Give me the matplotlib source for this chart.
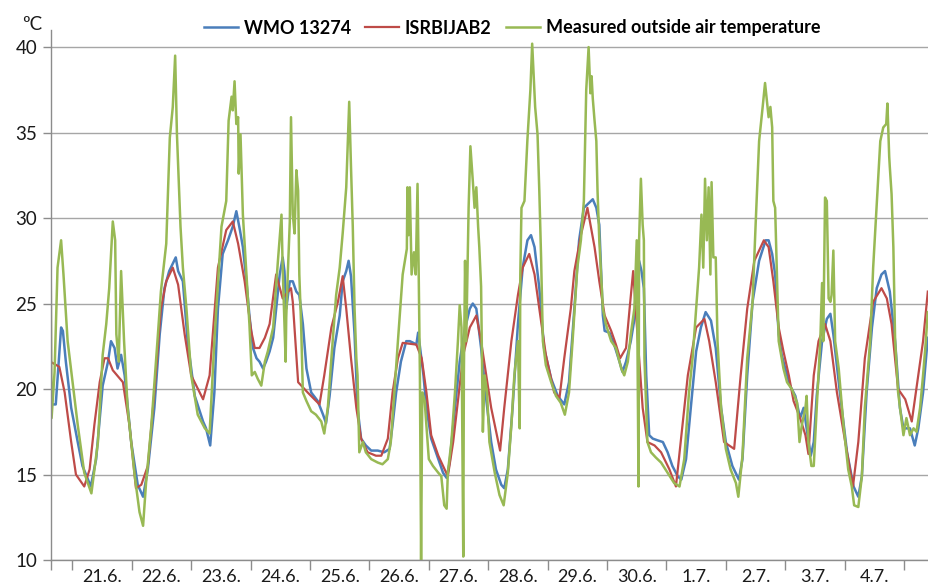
import matplotlib
matplotlib.use("Agg")
import matplotlib.pyplot as plt

plt.rcParams['font.family'] = ['Lato', 'DejaVu Sans']

# x values are days counted from 21.6. 00:00
day_labels = ["21.6.", "22.6.", "23.6.", "24.6.", "25.6.", "26.6.", "27.6.",
              "28.6.", "29.6.", "30.6.", "1.7.", "2.7.", "3.7.", "4.7."]

# WMO 13274
wmo_t = [-0.33, -0.28, -0.19, -0.16, -0.11, -0.02, 0.09, 0.17, 0.31, 0.40,
         0.51, 0.60, 0.65, 0.71, 0.76, 0.82, 0.88, 0.99, 1.10, 1.19,
         1.27, 1.38, 1.47, 1.55, 1.63, 1.74, 1.78, 1.86, 1.94, 2.06,
         2.20, 2.25, 2.32, 2.39, 2.45, 2.53, 2.62, 2.70, 2.76, 2.82,
         2.87, 2.93, 2.98, 3.04, 3.10, 3.15, 3.21, 3.26, 3.32, 3.38,
         3.43, 3.49, 3.54, 3.57, 3.60, 3.66, 3.71, 3.77, 3.82, 3.88,
         3.94, 4.02, 4.13, 4.22, 4.27, 4.33, 4.41, 4.50, 4.55, 4.61,
         4.65, 4.69, 4.75, 4.80, 4.86, 4.94, 5.03, 5.14, 5.25, 5.34,
         5.39, 5.45, 5.53, 5.62, 5.68, 5.74, 5.79, 5.82, 5.85, 5.91,
         5.96, 6.04, 6.16, 6.24, 6.30, 6.35, 6.44, 6.52, 6.60, 6.69,
         6.74, 6.80, 6.88, 6.97, 7.05, 7.13, 7.22, 7.27, 7.33, 7.41,
         7.50, 7.58, 7.66, 7.72, 7.78, 7.86, 7.94, 8.06, 8.17, 8.28,
         8.36, 8.45, 8.53, 8.61, 8.70, 8.76, 8.82, 8.87, 8.93, 8.96,
         9.04, 9.12, 9.21, 9.26, 9.32, 9.40, 9.49, 9.54, 9.58, 9.62,
         9.66, 9.71, 9.77, 9.85, 9.94, 10.02, 10.10, 10.19, 10.25, 10.33,
         10.41, 10.50, 10.58, 10.66, 10.75, 10.83, 10.92, 11.00, 11.11, 11.22,
         11.28, 11.36, 11.45, 11.56, 11.67, 11.72, 11.78, 11.83, 11.89, 11.94,
         12.00, 12.08, 12.17, 12.25, 12.31, 12.36, 12.43, 12.48, 12.53, 12.62,
         12.70, 12.76, 12.81, 12.92, 13.04, 13.15, 13.23, 13.29, 13.37, 13.46,
         13.54, 13.62, 13.68, 13.76, 13.85, 13.93, 13.99, 14.10, 14.18, 14.24,
         14.32, 14.40]
wmo_v = [19.1, 19.1, 23.6, 23.4, 21.6, 18.9, 16.9, 15.5, 14.3, 15.9,
         20.2, 21.6, 22.8, 22.4, 21.2, 22.0, 20.8, 16.9, 14.4, 13.7,
         15.3, 18.9, 23.2, 25.9, 26.9, 27.7, 26.9, 26.3, 22.8, 19.6,
         18.1, 17.7, 16.7, 19.8, 24.7, 27.9, 28.7, 29.5, 30.4, 29.3,
         28.3, 26.3, 24.3, 22.4, 21.8, 21.6, 21.2, 21.6, 22.2, 23.0,
         24.7, 26.7, 27.7, 26.9, 24.7, 26.3, 26.3, 25.7, 25.5, 23.8,
         21.2, 19.8, 19.3, 18.5, 18.0, 19.6, 22.4, 24.3, 26.3, 26.9,
         27.5, 26.6, 23.2, 18.9, 17.1, 16.7, 16.4, 16.4, 16.3, 16.5,
         17.9, 19.8, 21.6, 22.8, 22.8, 22.7, 22.6, 23.3, 22.5, 20.8,
         18.9, 17.1, 15.9, 15.1, 14.8, 15.7, 18.9, 21.6, 23.4, 24.7,
         25.0, 24.7, 22.4, 19.3, 16.9, 15.3, 14.4, 14.2, 15.3, 18.9,
         23.8, 27.1, 28.7, 29.0, 28.3, 25.9, 22.4, 20.6, 19.6, 19.1,
         20.4, 24.7, 28.7, 30.6, 30.9, 31.1, 30.6, 29.6, 24.3, 23.4,
         23.3, 22.6, 21.6, 21.0, 21.6, 22.8, 24.7, 27.5, 26.9, 25.9,
         20.8, 17.3, 17.1, 17.0, 16.9, 16.3, 15.5, 14.9, 14.7, 15.9,
         18.9, 22.2, 23.6, 24.5, 24.0, 22.4, 18.9, 16.9, 15.5, 14.7,
         15.9, 20.8, 25.1, 27.5, 28.7, 28.7, 27.9, 26.7, 23.2, 22.0,
         21.2, 20.2, 19.6, 18.3, 18.9, 17.7, 16.1, 16.9, 19.6, 22.8,
         24.1, 24.4, 23.2, 19.8, 16.3, 14.3, 13.7, 14.9, 19.8, 23.6,
         25.9, 26.7, 26.9, 25.7, 22.8, 18.9, 17.7, 17.7, 16.7, 17.7,
         19.8, 23.0]

# ISRBIJAB2
isr_t = [-0.37, -0.22, -0.13, -0.02, 0.06, 0.20, 0.29, 0.37, 0.46, 0.54,
         0.60, 0.68, 0.85, 0.96, 1.07, 1.16, 1.27, 1.38, 1.49, 1.58,
         1.69, 1.78, 1.89, 2.00, 2.20, 2.31, 2.45, 2.59, 2.70, 2.79,
         2.90, 3.01, 3.07, 3.15, 3.24, 3.32, 3.43, 3.54, 3.68, 3.71,
         3.80, 3.96, 4.16, 4.24, 4.36, 4.47, 4.55, 4.61, 4.69, 4.78,
         4.86, 4.97, 5.11, 5.20, 5.31, 5.39, 5.48, 5.56, 5.79, 5.88,
         5.96, 6.04, 6.16, 6.32, 6.41, 6.49, 6.58, 6.69, 6.80, 6.88,
         7.05, 7.20, 7.27, 7.39, 7.50, 7.58, 7.69, 7.78, 7.86, 7.97,
         8.11, 8.20, 8.28, 8.39, 8.45, 8.56, 8.67, 8.79, 8.87, 8.96,
         9.07, 9.15, 9.22, 9.32, 9.38, 9.44, 9.52, 9.60, 9.68, 9.80,
         9.91, 10.05, 10.16, 10.24, 10.36, 10.50, 10.64, 10.72, 10.83, 10.97,
         11.14, 11.25, 11.36, 11.48, 11.64, 11.72, 11.80, 11.89, 11.97, 12.06,
         12.14, 12.25, 12.34, 12.39, 12.48, 12.56, 12.67, 12.76, 12.87, 13.01,
         13.14, 13.23, 13.34, 13.48, 13.62, 13.71, 13.79, 13.90, 14.02, 14.13,
         14.24, 14.32, 14.40]
isr_v = [21.6, 21.3, 19.8, 16.9, 15.0, 14.3, 15.3, 17.9, 20.4, 21.8,
         21.8, 21.1, 20.4, 17.9, 14.2, 14.4, 15.5, 19.8, 24.7, 26.3,
         27.1, 26.1, 23.2, 20.8, 19.4, 20.8, 27.1, 29.3, 29.8, 28.5,
         26.3, 23.4, 22.4, 22.4, 23.0, 23.8, 26.7, 25.3, 25.9, 25.1,
         20.4, 19.8, 19.1, 20.8, 23.6, 25.1, 26.6, 24.7, 21.8, 18.9,
         17.1, 16.3, 16.1, 16.1, 17.1, 19.8, 21.8, 22.7, 22.6, 21.8,
         19.8, 17.3, 16.1, 14.9, 16.9, 19.3, 22.0, 23.6, 24.3, 22.8,
         18.9, 16.4, 18.9, 22.8, 25.5, 27.1, 27.9, 26.7, 24.7, 22.0,
         19.8, 19.5, 21.8, 24.7, 26.9, 29.0, 30.6, 28.3, 26.3, 24.3,
         23.4, 22.6, 21.8, 22.4, 24.7, 26.9, 22.8, 18.9, 16.9, 16.7,
         16.3, 15.3, 14.3, 16.9, 20.8, 23.6, 24.1, 22.8, 20.4, 16.9,
         16.5, 20.8, 24.7, 27.5, 28.7, 28.3, 26.3, 23.6, 22.2, 20.8,
         19.3, 18.3, 17.3, 16.2, 20.8, 22.8, 23.8, 22.8, 19.8, 16.9,
         14.3, 16.9, 21.8, 25.1, 25.9, 25.3, 23.8, 20.0, 19.4, 18.1,
         20.8, 22.8, 25.7]

# Measured outside air temperature
meas_t = [-0.37, -0.35, -0.30, -0.25, -0.19, -0.15, -0.08, 0.09, 0.20, 0.32,
          0.43, 0.51, 0.57, 0.62, 0.68, 0.72, 0.74, 0.78, 0.82, 0.87,
          0.93, 1.05, 1.13, 1.19, 1.24, 1.33, 1.44, 1.49, 1.58, 1.64,
          1.69, 1.73, 1.76, 1.82, 1.86, 1.92, 2.00, 2.11, 2.23, 2.31,
          2.39, 2.51, 2.59, 2.63, 2.68, 2.70, 2.73, 2.76, 2.79, 2.80,
          2.83, 2.87, 2.93, 2.98, 3.02, 3.07, 3.12, 3.18, 3.24, 3.29,
          3.38, 3.46, 3.52, 3.54, 3.59, 3.60, 3.63, 3.66, 3.68, 3.71,
          3.74, 3.77, 3.80, 3.82, 3.85, 3.88, 3.94, 4.02, 4.10, 4.19,
          4.24, 4.30, 4.36, 4.44, 4.50, 4.55, 4.61, 4.66, 4.69, 4.72,
          4.75, 4.78, 4.80, 4.83, 4.89, 4.94, 5.03, 5.14, 5.22, 5.31,
          5.36, 5.42, 5.48, 5.56, 5.63, 5.64, 5.66, 5.68, 5.71, 5.75,
          5.78, 5.81, 5.83, 5.85, 5.87, 5.89, 5.93, 6.00, 6.07, 6.16,
          6.21, 6.26, 6.30, 6.32, 6.38, 6.44, 6.49, 6.52, 6.55, 6.58,
          6.59, 6.61, 6.63, 6.65, 6.67, 6.70, 6.74, 6.77, 6.80, 6.83,
          6.85, 6.88, 6.91, 6.94, 6.98, 7.02, 7.11, 7.19, 7.26, 7.33,
          7.39, 7.44, 7.50, 7.53, 7.54, 7.56, 7.61, 7.66, 7.71, 7.74,
          7.79, 7.83, 7.86, 7.89, 7.92, 7.97, 8.06, 8.14, 8.22, 8.29,
          8.36, 8.42, 8.50, 8.56, 8.61, 8.65, 8.69, 8.72, 8.74, 8.76,
          8.79, 8.82, 8.84, 8.87, 8.93, 8.98, 9.07, 9.15, 9.24, 9.29,
          9.35, 9.40, 9.46, 9.50, 9.53, 9.54, 9.57, 9.60, 9.62, 9.63,
          9.66, 9.68, 9.74, 9.82, 9.91, 10.02, 10.13, 10.22, 10.30, 10.38,
          10.44, 10.50, 10.55, 10.59, 10.62, 10.65, 10.68, 10.71, 10.74, 10.76,
          10.79, 10.83, 10.86, 10.92, 11.00, 11.08, 11.17, 11.21, 11.28, 11.36,
          11.45, 11.50, 11.56, 11.62, 11.66, 11.69, 11.72, 11.75, 11.78, 11.80,
          11.83, 11.86, 11.89, 11.97, 12.03, 12.11, 12.20, 12.24, 12.28, 12.34,
          12.36, 12.39, 12.44, 12.48, 12.53, 12.59, 12.62, 12.64, 12.67, 12.70,
          12.73, 12.76, 12.78, 12.81, 12.84, 12.90, 12.98, 13.06, 13.12, 13.16,
          13.23, 13.29, 13.34, 13.43, 13.48, 13.57, 13.60, 13.65, 13.70, 13.72,
          13.75, 13.76, 13.79, 13.82, 13.85, 13.90, 13.99, 14.04, 14.10, 14.16,
          14.21, 14.27, 14.32, 14.36, 14.40]
meas_v = [29.5, 18.3, 21.0, 27.1, 28.7, 26.7, 22.8, 17.9, 15.1, 13.9,
          16.9, 22.0, 23.8, 25.9, 29.8, 28.7, 23.2, 21.6, 26.9, 22.8,
          18.9, 14.9, 12.8, 12.0, 14.5, 17.9, 23.2, 25.7, 28.5, 34.7,
          36.5, 39.5, 34.9, 29.5, 27.1, 24.7, 20.8, 18.5, 17.7, 17.4,
          22.8, 29.5, 31.0, 35.7, 37.1, 36.3, 38.0, 35.5, 35.9, 32.6,
          34.9, 30.2, 26.7, 23.8, 20.8, 21.0, 20.6, 20.2, 21.6, 22.2,
          23.6, 27.5, 30.2, 27.1, 21.6, 24.2, 27.1, 29.8, 35.9, 30.2,
          29.1, 32.8, 31.6, 26.7, 23.8, 19.8, 19.3, 18.7, 18.5, 18.1,
          17.4, 18.9, 21.8, 25.5, 27.1, 29.1, 31.8, 36.8, 33.0, 29.5,
          24.7, 21.8, 20.8, 16.3, 16.9, 16.3, 15.9, 15.7, 15.6, 15.9,
          16.9, 19.8, 22.8, 26.7, 28.2, 31.8, 29.0, 31.8, 26.7, 28.0,
          26.7, 32.0, 26.7, 20.8, 10.0, 19.8, 19.3, 15.9, 15.5, 15.1,
          14.9, 13.2, 13.0, 15.1, 16.9, 19.8, 22.8, 24.9, 23.6, 10.2,
          20.8, 27.5, 22.8, 26.7, 30.6, 34.2, 32.2, 30.6, 31.8, 29.5,
          28.3, 26.0, 17.5, 20.8, 19.8, 16.9, 15.1, 13.8, 13.2, 15.1,
          17.9, 20.8, 22.8, 17.7, 26.7, 30.6, 31.0, 34.6, 37.5, 40.2,
          36.5, 34.9, 31.6, 27.7, 22.8, 21.4, 20.4, 19.6, 19.2, 18.5,
          19.8, 22.8, 27.1, 28.7, 31.0, 37.5, 40.0, 37.3, 38.3, 37.0,
          35.7, 34.5, 31.6, 28.7, 24.7, 23.8, 22.8, 22.4, 21.2, 20.8,
          21.6, 23.2, 24.7, 28.7, 14.3, 28.7, 32.3, 29.6, 28.7, 21.8,
          18.9, 16.9, 16.3, 16.0, 15.7, 15.1, 14.5, 14.3, 15.9, 19.8,
          21.8, 24.7, 27.1, 30.2, 27.1, 32.3, 28.7, 31.8, 26.7, 32.1,
          27.7, 27.7, 22.8, 18.9, 16.5, 15.3, 14.5, 13.7, 16.1, 21.8,
          25.1, 29.5, 34.5, 36.5, 37.9, 36.9, 35.9, 36.5, 35.3, 31.0,
          30.6, 26.7, 22.8, 21.2, 20.4, 20.0, 19.2, 16.9, 17.9, 18.9,
          19.6, 16.9, 15.5, 15.5, 18.9, 22.8, 26.2, 22.8, 31.2, 31.0,
          25.3, 25.1, 25.5, 28.1, 22.8, 21.2, 17.9, 15.3, 14.3, 13.2,
          13.1, 14.9, 18.9, 22.8, 27.1, 32.6, 34.5, 35.3, 35.5, 36.7,
          33.6, 33.0, 31.4, 28.3, 22.8, 19.8, 17.3, 18.3, 17.3, 17.7,
          17.5, 18.9, 20.8, 22.5, 24.5]

assert len(wmo_t) == len(wmo_v)
assert len(isr_t) == len(isr_v)
assert len(meas_t) == len(meas_v)

x_left, x_right = -0.36, 14.42

fig = plt.figure(figsize=(9.29, 5.86), dpi=100)
ax = fig.add_axes([51 / 929, 26 / 586, 878 / 929, 530 / 586])

ax.plot(wmo_t, wmo_v, color='#4a7ebb', lw=1.8, label='WMO 13274')
ax.plot(isr_t, isr_v, color='#be4b48', lw=1.6, label='ISRBIJAB2')
ax.plot(meas_t, meas_v, color='#98b954', lw=1.8, label='Measured outside air temperature')

ax.set_xlim(x_left, x_right)
ax.set_ylim(10, 41)
ax.set_yticks(range(10, 41, 5))
ax.yaxis.grid(True, color='#a6a6a6', lw=1.0)
ax.set_axisbelow(True)

ax.set_xticks([x_left] + list(range(15)))
ax.set_xticks([i + 0.5 for i in range(14)], minor=True)
ax.set_xticklabels(day_labels, minor=True)
ax.tick_params(axis='x', which='major', length=7, width=1, color='#8c8c8c', labelbottom=False)
ax.tick_params(axis='x', which='minor', length=0, labelsize=13, pad=6.5, labelcolor='#1a1a1a')
ax.tick_params(axis='y', length=6, width=1, color='#8c8c8c', labelsize=13.5, pad=4, labelcolor='#1a1a1a')

for side in ['top', 'right']:
    ax.spines[side].set_visible(False)
for side in ['left', 'bottom']:
    ax.spines[side].set_color('#8c8c8c')
    ax.spines[side].set_linewidth(1.0)

fig.text(22 / 929, 1 - 25 / 586, 'ºC', fontsize=13.5, va='center', ha='left', color='#1a1a1a')

fig.legend(loc='center', bbox_to_anchor=(512 / 929, 1 - 28 / 586), ncol=3, frameon=False,
           handlelength=1.9, handletextpad=0.3, columnspacing=0.8,
           prop={'size': 13, 'weight': 'bold'})

fig.savefig('out.png', dpi=100)
